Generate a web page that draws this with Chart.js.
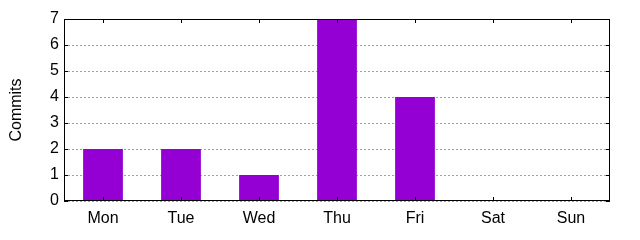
<!DOCTYPE html>
<html>
<head>
<meta charset="utf-8">
<script src="https://cdn.jsdelivr.net/npm/chart.js@4"></script>
<style>
  html, body { margin: 0; padding: 0; background: #fff; }
  #wrap { width: 640px; height: 240px; }
</style>
</head>
<body>
<div id="wrap"><canvas id="grafico" width="640" height="240"></canvas></div>
<script>
const days = ['Mon', 'Tue', 'Wed', 'Thu', 'Fri', 'Sat', 'Sun'];
const commits = [2, 2, 1, 7, 4, 0, 0];
const yTicks = [0, 1, 2, 3, 4, 5, 6, 7];

// moldura e marcas internas estilo gnuplot
const framePlugin = {
    id: 'frame',
    afterDatasetsDraw(chart) {
        const { ctx, chartArea: a, scales } = chart;
        ctx.save();
        ctx.strokeStyle = '#000';
        ctx.lineWidth = 1;
        ctx.strokeRect(a.left + 0.5, a.top + 0.5, a.right - a.left - 1, a.bottom - a.top - 1);
        ctx.beginPath();
        days.forEach((d, i) => {
            const x = Math.round(scales.x.getPixelForValue(i)) + 0.5;
            ctx.moveTo(x, a.bottom); ctx.lineTo(x, a.bottom - 4);
            ctx.moveTo(x, a.top); ctx.lineTo(x, a.top + 4);
        });
        yTicks.forEach(v => {
            const y = Math.round(scales.y.getPixelForValue(v)) + 0.5;
            ctx.moveTo(a.left, y); ctx.lineTo(a.left + 4, y);
            ctx.moveTo(a.right, y); ctx.lineTo(a.right - 4, y);
        });
        ctx.stroke();
        ctx.restore();
    }
};

const fonte = { family: 'Liberation Sans', size: 16 };

new Chart(document.getElementById('grafico'), {
    type: 'bar',
    data: {
        labels: days,
        datasets: [{
            label: 'Commits',
            data: commits,
            backgroundColor: '#9400d3',
            borderWidth: 0,
            barPercentage: 0.51,
            categoryPercentage: 1.0
        }]
    },
    options: {
        responsive: false,
        animation: false,
        layout: { padding: { top: 19, right: 30, left: 0, bottom: 0 } },
        plugins: { legend: { display: false }, tooltip: { enabled: false } },
        scales: {
            x: {
                grid: { display: false, drawTicks: false },
                border: { display: false },
                ticks: {
                    color: '#000',
                    font: fonte,
                    padding: 8,
                    maxRotation: 0
                },
                afterFit(scale) { scale.height = 39; }
            },
            y: {
                min: 0,
                max: 7,
                grid: {
                    color: '#a0a0a0',
                    drawTicks: false
                },
                border: { display: false, dash: [2, 2] },
                ticks: {
                    stepSize: 1,
                    color: '#000',
                    font: fonte,
                    padding: 5
                },
                title: {
                    display: true,
                    text: 'Commits',
                    color: '#000',
                    font: fonte,
                    padding: { top: 7, bottom: 0 }
                },
                afterFit(scale) { scale.width = 64; }
            }
        }
    },
    plugins: [framePlugin]
});
</script>
</body>
</html>
